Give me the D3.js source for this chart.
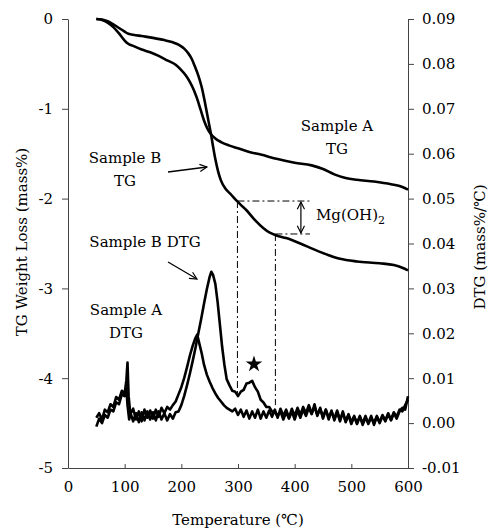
<!DOCTYPE html>
<html>
<head>
<meta charset="UTF-8">
<script src="https://d3js.org/d3.v7.min.js"></script>
<style>
    body { margin: 0; background: #fff; }
    text { font-family: 'DejaVu Serif', 'Liberation Serif', serif; fill: #000; }
</style>
</head>
<body>
<svg id="chart" width="490" height="532"></svg>
<script>
// TG curves: [temperature (C), weight loss (mass%)]
var tgA = [[50,0],[60,-0.01],[70,-0.04],[80,-0.09],[90,-0.16],[100,-0.24],[105,-0.27],[115,-0.30],
    [130,-0.34],[145,-0.37],[160,-0.41],[175,-0.46],[190,-0.51],[200,-0.57],[208,-0.63],[215,-0.70],
    [222,-0.79],[228,-0.89],[234,-1.01],[240,-1.13],[246,-1.22],[252,-1.28],[260,-1.33],[270,-1.37],
    [285,-1.41],[300,-1.44],[320,-1.48],[340,-1.51],[370,-1.56],[400,-1.60],[430,-1.63],[450,-1.67],
    [470,-1.73],[490,-1.77],[510,-1.79],[540,-1.81],[570,-1.84],[590,-1.87],[600,-1.90]];

var tgB = [[50,0],[60,-0.005],[70,-0.025],[80,-0.06],[90,-0.10],[100,-0.14],[105,-0.16],[115,-0.175],
    [130,-0.19],[150,-0.21],[170,-0.235],[185,-0.26],[195,-0.285],[205,-0.33],[212,-0.38],[218,-0.44],
    [224,-0.53],[230,-0.63],[236,-0.76],[242,-0.94],[248,-1.14],[252,-1.27],[256,-1.42],[260,-1.56],
    [265,-1.70],[270,-1.80],[278,-1.89],[287,-1.95],[297,-2.02],[305,-2.07],[315,-2.13],[330,-2.24],
    [345,-2.33],[356,-2.38],[368,-2.41],[385,-2.44],[410,-2.50],[432,-2.56],[460,-2.63],[480,-2.67],
    [510,-2.70],[550,-2.72],[575,-2.74],[590,-2.77],[600,-2.80]];

// DTG curves: [temperature (C), DTG (mass%/C)]
var dtgA = [[50,0.0012],[55,0.0022],[60,0.0008],[65,0.0030],[70,0.0024],[75,0.0042],[80,0.0036],
    [85,0.0058],[90,0.0052],[95,0.0072],[100,0.0066],[103,0.0095],[105,0.0135],[107,0.0060],[110,0.0020],
    [115,0.0032],[120,0.0008],[125,0.0026],[130,0.0004],[135,0.0030],[140,0.0012],[145,0.0028],
    [150,0.0010],[155,0.0030],[160,0.0014],[165,0.0034],[170,0.0022],[175,0.0036],[180,0.0030],
    [185,0.0040],[190,0.0048],[195,0.0064],[200,0.0080],[205,0.0100],[210,0.0124],[215,0.0150],
    [220,0.0172],[225,0.0190],[228,0.0197],[232,0.0176],[236,0.0155],[240,0.0130],[245,0.0108],
    [250,0.0092],[255,0.0078],[260,0.0066],[265,0.0056],[270,0.0048],[275,0.0040],[280,0.0034],
    [285,0.0030],[290,0.0026],[295,0.0032],[300,0.0018],[305,0.0030],[310,0.0014],[315,0.0028],
    [320,0.0010],[325,0.0026],[330,0.0012],[335,0.0030],[340,0.0010],[345,0.0026],[350,0.0012],
    [355,0.0028],[360,0.0014],[365,0.0030],[370,0.0012],[375,0.0032],[380,0.0016],[385,0.0030],
    [390,0.0012],[395,0.0032],[400,0.0016],[405,0.0034],[410,0.0018],[415,0.0036],[420,0.0022],
    [425,0.0040],[430,0.0022],[435,0.0036],[440,0.0018],[445,0.0032],[450,0.0014],[455,0.0030],
    [460,0.0012],[465,0.0026],[470,0.0010],[475,0.0028],[480,0.0008],[485,0.0022],[490,0.0004],
    [495,0.0020],[500,0.0002],[505,0.0016],[510,-0.0002],[515,0.0014],[520,0.0000],[525,0.0016],
    [530,-0.0002],[535,0.0012],[540,0.0000],[545,0.0016],[550,0.0002],[555,0.0018],[560,0.0006],
    [565,0.0022],[570,0.0008],[575,0.0024],[580,0.0014],[585,0.0030],[590,0.0026],[595,0.0040],
    [600,0.0052]];

var dtgB = [[50,-0.0008],[55,0.0010],[60,0.0000],[65,0.0018],[70,0.0012],[75,0.0030],[80,0.0026],
    [85,0.0046],[90,0.0042],[95,0.0064],[100,0.0060],[103,0.0078],[105,0.0040],[108,0.0008],
    [110,0.0024],[115,0.0004],[120,0.0022],[125,0.0002],[130,0.0024],[135,0.0006],[140,0.0026],
    [145,0.0008],[150,0.0024],[155,0.0006],[160,0.0026],[165,0.0008],[170,0.0022],[175,0.0006],
    [180,0.0020],[185,0.0010],[190,0.0024],[195,0.0026],[200,0.0040],[205,0.0060],[210,0.0084],
    [215,0.0110],[220,0.0138],[225,0.0168],[230,0.0200],[235,0.0232],[240,0.0266],[245,0.0298],
    [250,0.0326],[253,0.0337],[256,0.0330],[260,0.0310],[264,0.0270],[268,0.0220],[272,0.0170],
    [276,0.0130],[280,0.0098],[285,0.0084],[290,0.0072],[295,0.0070],[300,0.0060],[305,0.0070],
    [310,0.0074],[315,0.0088],[320,0.0090],[325,0.0094],[330,0.0080],[335,0.0070],[340,0.0052],
    [345,0.0046],[350,0.0036],[355,0.0036],[360,0.0026],[365,0.0024],[370,0.0016],[375,0.0026],
    [380,0.0008],[385,0.0024],[390,0.0010],[395,0.0026],[400,0.0008],[405,0.0028],[410,0.0012],
    [415,0.0030],[420,0.0016],[425,0.0034],[430,0.0020],[435,0.0042],[440,0.0016],[445,0.0034],
    [450,0.0010],[455,0.0030],[460,0.0008],[465,0.0028],[470,0.0006],[475,0.0024],[480,0.0004],
    [485,0.0026],[490,0.0002],[495,0.0018],[500,-0.0002],[505,0.0014],[510,0.0000],[515,0.0016],
    [520,-0.0004],[525,0.0012],[530,0.0000],[535,0.0016],[540,-0.0004],[545,0.0014],[550,0.0000],
    [555,0.0016],[560,0.0004],[565,0.0020],[570,0.0006],[575,0.0022],[580,0.0010],[585,0.0026],
    [590,0.0034],[595,0.0030],[600,0.0060]];

var xTicks = [0, 100, 200, 300, 400, 500, 600];
var tgTicks = [0, -1, -2, -3, -4, -5];
var dtgTicks = [0.09, 0.08, 0.07, 0.06, 0.05, 0.04, 0.03, 0.02, 0.01, 0.00, -0.01];

var svg = d3.select("#chart");
var mLeft = 68, mRight = 408, mTop = 19, mBottom = 468;

var x = d3.scaleLinear().domain([0, 600]).range([mLeft, mRight]);
var yL = d3.scaleLinear().domain([-5, 0]).range([mBottom, mTop]);
var yR = d3.scaleLinear().domain([-0.01, 0.09]).range([mBottom, mTop]);

// axes
var ax = svg.append("g").attr("transform", "translate(0," + mBottom + ")")
    .call(d3.axisBottom(x).tickValues(xTicks).tickSize(-4).tickSizeOuter(0).tickPadding(13));
var al = svg.append("g").attr("transform", "translate(" + mLeft + ",0)")
    .call(d3.axisLeft(yL).tickValues(tgTicks).tickSize(6).tickSizeOuter(0).tickPadding(9)
        .tickFormat(function (d) { return String(d); }));
var ar = svg.append("g").attr("transform", "translate(" + mRight + ",0)")
    .call(d3.axisRight(yR).tickValues(dtgTicks).tickSize(6).tickSizeOuter(0).tickPadding(8)
        .tickFormat(function (d) { return d.toFixed(2); }));

[ax, al, ar].forEach(function (g) {
    g.attr("font-family", null).attr("font-size", null);
    g.selectAll("text").style("font-size", "15px");
    g.selectAll("path, line").attr("stroke", "#444");
});

// axis titles
svg.append("text").attr("x", 238).attr("y", 525).attr("text-anchor", "middle")
    .style("font-size", "15px").text("Temperature (℃)");
svg.append("text").attr("transform", "translate(27,242) rotate(-90)").attr("text-anchor", "middle")
    .style("font-size", "15px").text("TG Weight Loss (mass%)");
svg.append("text").attr("transform", "translate(485,247) rotate(-90)").attr("text-anchor", "middle")
    .style("font-size", "15px").text("DTG (mass%/℃)");

// curves
var tgLine = d3.line().x(function (d) { return x(d[0]); }).y(function (d) { return yL(d[1]); })
    .curve(d3.curveMonotoneX);
var dtgLine = d3.line().x(function (d) { return x(d[0]); }).y(function (d) { return yR(d[1]); });

[dtgA, dtgB].forEach(function (s) {
    svg.append("path").datum(s).attr("d", dtgLine)
        .attr("fill", "none").attr("stroke", "#000").attr("stroke-width", 2.6)
        .attr("stroke-linejoin", "round");
});
[tgA, tgB].forEach(function (s) {
    svg.append("path").datum(s).attr("d", tgLine)
        .attr("fill", "none").attr("stroke", "#000").attr("stroke-width", 2.6);
});

// Mg(OH)2 dash-dot guides
var tStart = 299, tEnd = 366, tRight = 427, tArrow = 411;
var tgStart = -2.027, tgEnd = -2.394;
var dash = "7,3,2,3";
function guide(x1, y1, x2, y2) {
    svg.append("line").attr("x1", x1).attr("y1", y1).attr("x2", x2).attr("y2", y2)
        .attr("stroke", "#000").attr("stroke-width", 1).attr("stroke-dasharray", dash);
}
guide(x(tStart), yL(tgStart), x(tRight), yL(tgStart));
guide(x(tEnd), yL(tgEnd), x(tRight), yL(tgEnd));
guide(x(tStart), yL(tgStart), x(tStart), yR(0.0063));
guide(x(tEnd), yL(tgEnd), x(tEnd), yR(0.0040));

var defs = svg.append("defs");
defs.append("marker").attr("id", "head").attr("viewBox", "0 0 10 10")
    .attr("refX", 9).attr("refY", 5).attr("markerWidth", 9).attr("markerHeight", 9)
    .attr("markerUnits", "userSpaceOnUse").attr("orient", "auto-start-reverse")
    .append("path").attr("d", "M1,1 L9,5 L1,9").attr("fill", "none").attr("stroke", "#000")
    .attr("stroke-width", 1.3);

svg.append("line").attr("x1", x(tArrow)).attr("y1", yL(tgStart) + 1).attr("x2", x(tArrow)).attr("y2", yL(tgEnd) - 1)
    .attr("stroke", "#000").attr("stroke-width", 1.2)
    .attr("marker-start", "url(#head)").attr("marker-end", "url(#head)");

var mg = svg.append("text").attr("x", x(437.6)).attr("y", yL(-2.238)).style("font-size", "15px");
mg.append("tspan").text("Mg(OH)");
mg.append("tspan").attr("dy", 4).style("font-size", "11px").text("2");

// labels
function label(t, v, lines) {
    lines.forEach(function (s, i) {
        svg.append("text").attr("x", x(t)).attr("y", yL(v) + i * 23.5).attr("text-anchor", "middle")
            .style("font-size", "15px").text(s);
    });
}
label(474.7, -1.247, ["Sample A", "TG"]);
label(100.6, -1.598, ["Sample B", "TG"]);
label(135.9, -2.539, ["Sample B DTG"]);
label(102.4, -3.296, ["Sample A", "DTG"]);

function arrow(t1, v1, t2, v2) {
    svg.append("line").attr("x1", x(t1)).attr("y1", yL(v1)).attr("x2", x(t2)).attr("y2", yL(v2))
        .attr("stroke", "#000").attr("stroke-width", 1.3).attr("marker-end", "url(#head)");
}
arrow(176.5, -1.704, 245.3, -1.648);
arrow(176.5, -2.706, 227.6, -2.895);

// star over the shoulder peak
svg.append("path").attr("d", d3.symbol().type(d3.symbolStar).size(85)())
    .attr("transform", "translate(" + x(328.2) + "," + yR(0.0131) + ")").attr("fill", "#000");
</script>
</body>
</html>
